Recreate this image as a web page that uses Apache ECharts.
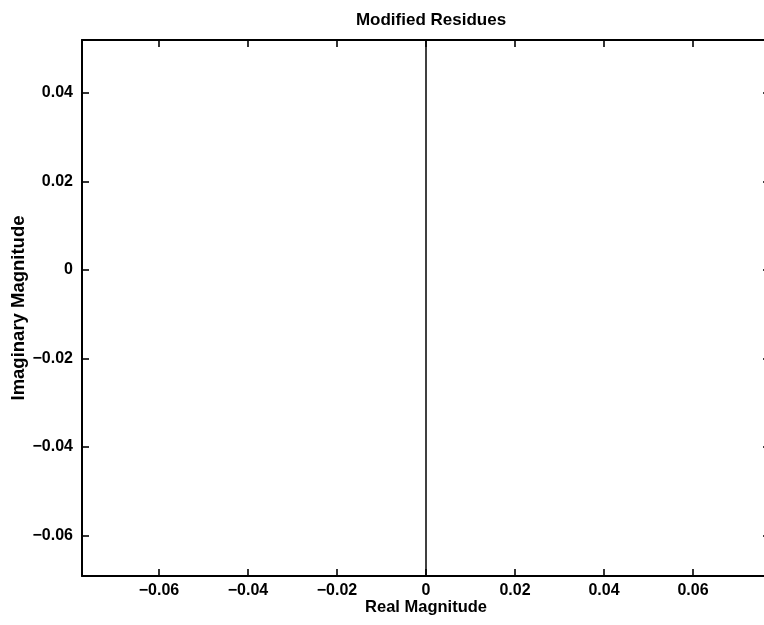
<!DOCTYPE html>
<html>
<head>
<meta charset="utf-8">
<script src="https://cdn.jsdelivr.net/npm/echarts@6/dist/echarts.min.js"></script>
<style>
  html, body { margin: 0; padding: 0; background: #fff; }
  #chart { width: 764px; height: 625px; }
</style>
</head>
<body>
<div id="chart"></div>
<script>
// Axis extents and tick positions
const xRange = [-0.0773, 0.0773];
const yRange = [-0.0692, 0.052];
const xTicks = [-0.06, -0.04, -0.02, 0, 0.02, 0.04, 0.06];
const yTicks = [-0.06, -0.04, -0.02, 0, 0.02, 0.04];

// Residue trace: real parts and imaginary parts
const residueReal = [0, 0, 0, 0];
const residueImag = [-0.0692, -0.001, 0.008, 0.052];

const FONT = 'Helvetica, "Liberation Sans", Arial, sans-serif';

function fmt(v) {
  const r = Math.round(v * 100) / 100;
  if (r === 0) return '0';
  const s = Math.abs(r).toFixed(2);
  return (r < 0 ? '\u2212' : '') + s;
}

const chart = echarts.init(document.getElementById('chart'), null, { renderer: 'canvas' });

const frameLine = { color: '#000', width: 2 };
const tickLine = { color: '#000', width: 1.6 };
const labelStyle = { fontFamily: FONT, fontSize: 16, fontWeight: 'bold', color: '#000' };

function axis(opts, ticks, withLabels, labelExtra) {
  return Object.assign({
    type: 'value',
    nameMoveOverlap: false,
    axisLine: { show: true, onZero: false, lineStyle: frameLine },
    axisTick: { show: true, inside: true, length: 7, customValues: ticks, lineStyle: tickLine },
    axisLabel: withLabels
      ? Object.assign({ customValues: ticks, formatter: fmt }, labelStyle, labelExtra)
      : { show: false },
    splitLine: { show: false }
  }, opts);
}

chart.setOption({
  backgroundColor: '#fff',
  animation: false,
  title: {
    text: 'Modified Residues',
    left: 426,
    textAlign: 'center',
    top: 7,
    textStyle: { fontFamily: FONT, fontSize: 17, fontWeight: 'bold', color: '#000' }
  },
  grid: { left: 82, top: 40, width: 688, bottom: 49, outerBoundsMode: 'none' },
  xAxis: [
    axis({
      position: 'bottom',
      min: xRange[0], max: xRange[1],
      name: 'Real Magnitude',
      nameLocation: 'middle',
      nameGap: 23,
      nameTextStyle: { fontFamily: FONT, fontSize: 16.5, fontWeight: 'bold', color: '#000' }
    }, xTicks, true, { margin: 7 }),
    axis({ position: 'top', min: xRange[0], max: xRange[1] }, xTicks, false)
  ],
  yAxis: [
    axis({
      position: 'left',
      min: yRange[0], max: yRange[1],
      name: 'Imaginary Magnitude',
      nameLocation: 'middle',
      nameGap: 54,
      nameTextStyle: { fontFamily: FONT, fontSize: 18.5, fontWeight: 'bold', color: '#000' }
    }, yTicks, true, { margin: 9 }),
    axis({ position: 'right', min: yRange[0], max: yRange[1] }, yTicks, false)
  ],
  series: [{
    type: 'line',
    xAxisIndex: 0,
    yAxisIndex: 0,
    data: residueReal.map((x, i) => [x, residueImag[i]]),
    showSymbol: false,
    lineStyle: { color: '#000', width: 1.5 },
    clip: true
  }]
});
</script>
</body>
</html>
